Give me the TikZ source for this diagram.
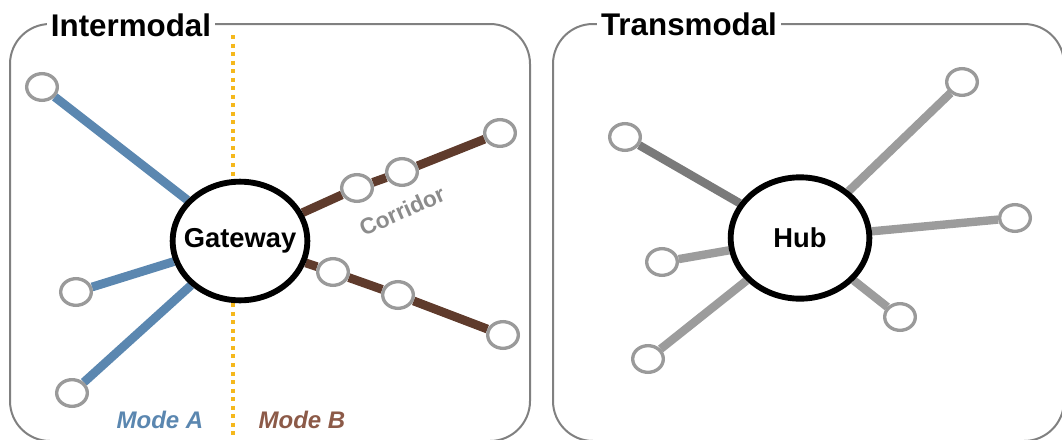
\documentclass[tikz,border=0pt]{standalone}
\usepackage{fontspec}
\setmainfont{Liberation Sans}
\usetikzlibrary{shapes.geometric,backgrounds}
\definecolor{boxgray}{HTML}{808080}
\definecolor{ringgray}{HTML}{9A9A9A}
\definecolor{modeblue}{HTML}{5B87B0}
\definecolor{modebrown}{HTML}{5F3B2C}
\definecolor{labelbrown}{HTML}{8C5A48}
\definecolor{dotorange}{HTML}{F5B81C}
\definecolor{linegray}{HTML}{9C9C9C}
\definecolor{darklinegray}{HTML}{7A7A7A}
\definecolor{textgray}{HTML}{8C8C8C}
\begin{document}
\begin{tikzpicture}[x=0.75pt,y=-0.75pt,
  frame/.style={draw=boxgray,line width=1.5pt,rounded corners=30pt},
  title/.style={fill=white,inner sep=3pt,anchor=base,font=\bfseries\fontsize{23.5}{27}\selectfont},
  bigring/.style={ellipse,draw=black,line width=4.4pt,fill=white,inner sep=0pt,
    label={[font=\bfseries\fontsize{20.5}{24}\selectfont]center:#1}},
  stop/.style={ellipse,draw=ringgray,line width=2.5pt,fill=white,minimum width=23pt,minimum height=20pt,inner sep=0pt},
  bluelink/.style={draw=modeblue,line width=6.6pt},
  brownlink/.style={draw=modebrown,line width=6.6pt},
  graylink/.style={draw=linegray,line width=6.3pt},
  darkgraylink/.style={draw=darklinegray,line width=6.3pt},
  divider/.style={draw=dotorange,line width=3pt,dash pattern=on 3pt off 3.4pt},
  modelabel/.style={font=\bfseries\itshape\fontsize{18}{22}\selectfont}]
\useasboundingbox (0,0) rectangle (1062,439);
\clip (0,0) rectangle (1062,439);

% ---------- Intermodal ----------
\node[bigring=Gateway,minimum width=101pt,minimum height=89pt] (gw) at (240,241) {};
\node[stop] (a1) at (42,87) {};
\node[stop] (a2) at (76,292) {};
\node[stop] (a3) at (72,393) {};
\node[stop] (c1) at (357,188) {};
\node[stop] (c2) at (402,172) {};
\node[stop] (c3) at (500,133) {};
\node[stop] (d1) at (333,272) {};
\node[stop] (d2) at (398,295) {};
\node[stop] (d3) at (503,335) {};
\coordinate (dtop) at (233,35);
\coordinate (dbot) at (233,442);

\node[title] (tinter) at (131,36) {Intermodal};
\node[rotate=24,text=textgray,inner sep=0pt,font=\bfseries\fontsize{17}{20}\selectfont] (corr) at (402,211) {Corridor};
\node[modelabel,text=modeblue] (ma) at (160,420) {Mode A};
\node[modelabel,text=labelbrown] (mb) at (302,420) {Mode B};

% ---------- Transmodal ----------
\node[bigring=Hub,minimum width=104pt,minimum height=91pt] (hub) at (800,238) {};
\node[stop] (t1) at (625,137) {};
\node[stop] (t2) at (662,262) {};
\node[stop] (t3) at (648,359) {};
\node[stop] (t4) at (962,82) {};
\node[stop] (t5) at (1015,218) {};
\node[stop] (t6) at (900,317) {};
\node[title] (ttrans) at (689,35) {Transmodal};

\begin{scope}[on background layer]
  \draw[frame] (10,24) rectangle (530,441);
  \draw[frame] (553,24) rectangle (1064,441);
  \draw[divider] (dtop) -- (dtop |- gw.north);
  \draw[divider] (dtop |- gw.south) -- (dbot);
  \draw[bluelink] (a1) -- (gw);
  \draw[bluelink] (a2) -- (gw);
  \draw[bluelink] (a3) -- (gw);
  \draw[brownlink] (gw) -- (c1) -- (c2) -- (c3);
  \draw[brownlink] (gw) -- (d1) -- (d2) -- (d3);
  \draw[darkgraylink] (t1) -- (hub);
  \draw[graylink] (t2) -- (hub);
  \draw[graylink] (t3) -- (hub);
  \draw[graylink] (t4) -- (hub);
  \draw[graylink] (t5) -- (hub);
  \draw[graylink] (t6) -- (hub);
\end{scope}
\end{tikzpicture}
\end{document}
